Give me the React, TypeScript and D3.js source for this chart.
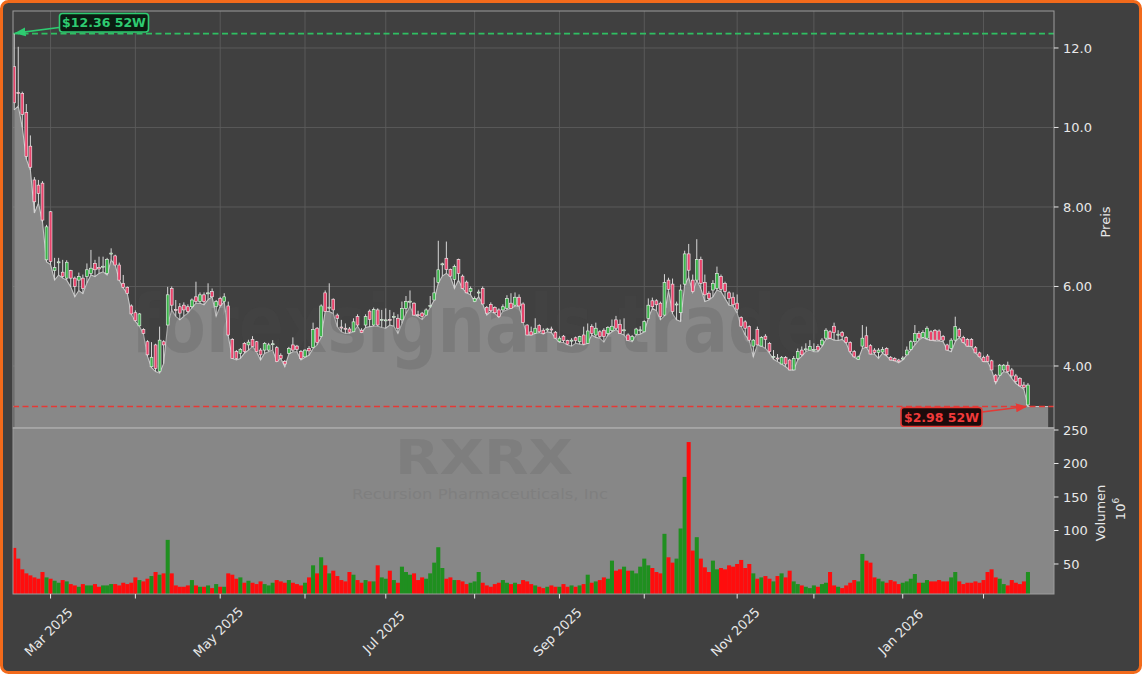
import React from "react";
import * as d3 from "d3";

// ---------- DATA ----------
const START_DATE = "2025-02-18";
const HOLIDAYS = [
  "2025-04-18", "2025-05-26", "2025-06-19", "2025-07-04", "2025-09-01",
  "2025-11-27", "2025-12-25", "2026-01-01", "2026-01-19", "2026-02-16",
];

const OPEN = [
  11.53, 10.88, 10.86, 10.38, 9.53, 8.68, 8.55, 8.6, 6.67, 7.88,
  6.4, 6.6, 6.36, 6.21, 6.4, 6.21, 6.16, 6.21, 6.25, 6.33,
  6.58, 6.48, 6.49, 6.33, 6.82, 6.77, 6.54, 6.08, 5.98, 5.51,
  5.34, 5.01, 4.92, 4.61, 3.98, 4.53, 3.86, 4.61, 5.03, 5.95,
  5.42, 5.49, 5.53, 5.49, 5.49, 5.74, 5.62, 5.79, 5.82, 5.87,
  5.49, 5.7, 5.62, 5.51, 4.67, 4.36, 4.32, 4.57, 4.53, 4.67,
  4.61, 4.4, 4.4, 4.4, 4.54, 4.46, 4.27, 4.11, 4.32, 4.53,
  4.5, 4.36, 4.23, 4.44, 4.47, 4.95, 4.74, 5.84, 5.46, 5.68,
  5.28, 4.98, 4.95, 4.93, 4.86, 5.24, 4.9, 5.03, 5.38, 5.03,
  5.41, 5.15, 5.14, 5.17, 5.23, 5.2, 5.16, 5.45, 5.61, 5.58,
  5.29, 5.33, 5.28, 5.5, 5.66, 6.1, 6.55, 6.71, 6.43, 6.18,
  6.68, 6.26, 6.11, 5.87, 5.62, 5.84, 5.95, 5.47, 5.55, 5.47,
  5.41, 5.41, 5.45, 5.58, 5.53, 5.73, 5.56, 5.03, 4.86, 4.82,
  5.02, 4.9, 4.91, 4.93, 4.85, 4.61, 4.75, 4.64, 4.63, 4.71,
  4.61, 4.78, 4.57, 4.99, 4.78, 4.86, 4.9, 4.82, 4.89, 5.16,
  5.05, 4.89, 4.78, 4.64, 4.8, 4.89, 4.86, 5.2, 5.64, 5.64,
  5.58, 5.28, 6.16, 6.06, 5.54, 5.34, 6.06, 6.82, 6.16, 6.16,
  6.68, 6.1, 5.83, 5.91, 5.95, 6.25, 6.08, 5.84, 5.73, 5.58,
  5.22, 5.11, 4.99, 4.5, 4.92, 4.5, 4.75, 4.57, 4.22, 4.2,
  4.05, 4.21, 4.15, 3.9, 4.19, 4.4, 4.41, 4.4, 4.39, 4.49,
  4.53, 4.7, 4.86, 5.0, 4.78, 4.84, 4.72, 4.59, 4.36, 4.17,
  4.5, 4.76, 4.51, 4.4, 4.34, 4.35, 4.44, 4.22, 4.19, 4.15,
  4.18, 4.28, 4.42, 4.61, 4.82, 4.72, 4.7, 4.86, 4.89, 4.88,
  4.74, 4.53, 4.44, 4.65, 4.92, 4.72, 4.67, 4.67, 4.46, 4.33,
  4.22, 4.25, 4.13, 3.77, 3.77, 3.9, 4.02, 3.9, 3.75, 3.69,
  3.52, 3.02,
];
const HIGH = [
  12.36, 12.03, 10.9, 10.59, 9.8, 8.75, 8.68, 8.65, 7.55, 7.9,
  6.72, 6.72, 6.67, 6.66, 6.42, 6.25, 6.35, 6.3, 6.58, 6.92,
  6.67, 6.75, 6.75, 6.72, 6.96, 6.8, 6.6, 6.29, 6.0, 5.55,
  5.4, 5.33, 4.95, 4.65, 4.6, 4.56, 4.99, 4.65, 5.99, 6.0,
  5.66, 5.58, 5.6, 5.55, 5.7, 6.12, 5.85, 5.85, 6.08, 5.95,
  5.66, 5.74, 5.83, 5.62, 4.7, 4.4, 4.45, 4.6, 4.66, 4.75,
  4.63, 4.45, 4.6, 4.58, 4.65, 4.5, 4.32, 4.15, 4.48, 4.72,
  4.53, 4.4, 4.42, 4.5, 5.09, 4.98, 5.55, 5.9, 6.08, 5.7,
  5.32, 5.16, 5.07, 4.98, 5.2, 5.3, 4.95, 5.3, 5.42, 5.47,
  5.45, 5.41, 5.45, 5.41, 5.35, 5.3, 5.62, 5.76, 5.9, 5.6,
  5.39, 5.36, 5.45, 5.76, 6.23, 7.15, 6.6, 7.13, 6.45, 6.55,
  6.7, 6.3, 6.15, 6.0, 5.75, 5.92, 6.0, 5.51, 5.6, 5.5,
  5.45, 5.55, 5.78, 5.83, 5.85, 5.8, 5.6, 5.05, 4.99, 5.2,
  5.05, 4.95, 4.96, 4.99, 4.88, 4.75, 4.78, 4.66, 4.7, 4.74,
  4.76, 4.99, 5.07, 5.05, 5.09, 4.9, 4.95, 5.0, 5.17, 5.26,
  5.17, 5.2, 4.82, 4.78, 4.96, 5.0, 5.15, 5.7, 5.72, 5.68,
  5.62, 6.31, 6.22, 6.2, 5.62, 6.05, 6.9, 7.07, 6.3, 7.19,
  6.75, 6.3, 5.88, 6.16, 6.5, 6.3, 6.12, 5.88, 5.85, 5.8,
  5.25, 5.15, 5.02, 4.68, 4.99, 4.75, 4.8, 4.6, 4.4, 4.3,
  4.25, 4.25, 4.18, 4.25, 4.44, 4.49, 4.57, 4.65, 4.57, 4.55,
  4.7, 4.95, 4.9, 5.09, 4.9, 4.88, 4.75, 4.62, 4.4, 4.26,
  5.03, 4.99, 4.55, 4.45, 4.45, 4.48, 4.47, 4.25, 4.22, 4.18,
  4.25, 4.49, 4.65, 5.03, 4.88, 4.9, 5.0, 4.9, 4.93, 4.92,
  4.78, 4.56, 4.7, 5.24, 4.96, 4.76, 4.7, 4.7, 4.5, 4.36,
  4.26, 4.3, 4.16, 3.8, 4.05, 4.05, 4.11, 3.95, 3.8, 3.72,
  3.6, 3.57,
];
const LOW = [
  10.44, 10.54, 10.0, 9.2, 8.93, 7.85, 8.1, 7.62, 6.62, 6.55,
  6.16, 6.29, 6.21, 6.16, 5.99, 5.74, 5.9, 5.82, 6.09, 6.29,
  6.25, 6.33, 6.37, 6.29, 6.67, 6.54, 6.16, 5.96, 5.82, 5.3,
  5.12, 5.0, 4.8, 4.24, 3.96, 3.86, 3.82, 4.06, 5.03, 5.41,
  5.25, 5.16, 5.25, 5.33, 5.46, 5.58, 5.58, 5.54, 5.67, 5.74,
  5.25, 5.5, 5.62, 4.75, 4.19, 4.15, 4.19, 4.32, 4.4, 4.49,
  4.36, 4.15, 4.32, 4.36, 4.4, 4.11, 4.19, 3.98, 4.3, 4.36,
  4.36, 4.15, 4.22, 4.27, 4.44, 4.53, 4.72, 5.37, 5.37, 5.32,
  4.99, 4.86, 4.82, 4.82, 4.86, 5.0, 4.84, 4.97, 4.99, 5.0,
  5.0, 4.97, 4.95, 5.03, 5.0, 4.82, 5.07, 5.32, 5.49, 5.28,
  5.24, 5.17, 5.28, 5.47, 5.66, 6.08, 6.26, 6.33, 6.25, 5.95,
  6.16, 5.95, 5.84, 5.79, 5.62, 5.74, 5.56, 5.28, 5.37, 5.32,
  5.22, 5.37, 5.41, 5.45, 5.51, 5.51, 5.09, 4.78, 4.78, 4.82,
  4.84, 4.8, 4.86, 4.84, 4.7, 4.59, 4.59, 4.53, 4.5, 4.57,
  4.55, 4.53, 4.57, 4.78, 4.72, 4.7, 4.6, 4.78, 4.86, 4.92,
  4.82, 4.78, 4.64, 4.61, 4.78, 4.8, 4.86, 5.2, 5.45, 5.39,
  5.16, 5.26, 5.9, 5.31, 5.16, 5.12, 6.04, 6.23, 5.85, 6.16,
  5.95, 5.62, 5.66, 5.74, 5.91, 5.87, 5.7, 5.53, 5.51, 5.33,
  4.99, 4.78, 4.64, 4.23, 4.53, 4.5, 4.44, 4.32, 4.17, 4.11,
  4.05, 3.98, 3.9, 3.9, 4.15, 4.25, 4.36, 4.4, 4.36, 4.36,
  4.49, 4.67, 4.7, 4.65, 4.64, 4.67, 4.57, 4.33, 4.22, 4.17,
  4.44, 4.47, 4.3, 4.3, 4.19, 4.32, 4.25, 4.15, 4.13, 4.08,
  4.15, 4.28, 4.4, 4.53, 4.65, 4.72, 4.67, 4.65, 4.63, 4.63,
  4.61, 4.4, 4.36, 4.61, 4.72, 4.59, 4.5, 4.49, 4.33, 4.23,
  4.11, 4.11, 3.9, 3.56, 3.75, 3.86, 3.83, 3.69, 3.56, 3.49,
  3.41, 2.98,
];
const CLOSE = [
  10.62, 10.85, 10.33, 9.27, 9.0, 8.13, 8.34, 7.67, 7.5, 6.63,
  6.48, 6.62, 6.25, 6.61, 6.21, 6.0, 6.25, 5.95, 6.42, 6.46,
  6.42, 6.44, 6.51, 6.68, 6.84, 6.54, 6.16, 5.98, 5.83, 5.31,
  5.14, 5.31, 4.82, 4.28, 4.22, 3.94, 4.65, 4.53, 5.79, 5.53,
  5.4, 5.33, 5.41, 5.37, 5.66, 5.62, 5.79, 5.62, 5.84, 5.74,
  5.62, 5.53, 5.74, 4.78, 4.19, 4.19, 4.42, 4.36, 4.6, 4.49,
  4.36, 4.28, 4.57, 4.53, 4.56, 4.11, 4.19, 4.05, 4.44, 4.4,
  4.42, 4.19, 4.4, 4.38, 4.92, 4.59, 5.51, 5.37, 5.48, 5.41,
  5.2, 4.96, 4.93, 4.85, 5.11, 5.03, 4.84, 5.24, 5.17, 5.42,
  5.03, 5.17, 5.16, 5.15, 5.25, 4.95, 5.45, 5.62, 5.63, 5.28,
  5.27, 5.24, 5.41, 5.52, 5.84, 6.42, 6.57, 6.43, 6.26, 6.5,
  6.33, 5.95, 5.84, 5.95, 5.7, 5.86, 5.56, 5.33, 5.39, 5.34,
  5.24, 5.49, 5.7, 5.45, 5.73, 5.51, 5.09, 4.78, 4.78, 4.95,
  4.86, 4.82, 4.93, 4.91, 4.7, 4.7, 4.64, 4.55, 4.65, 4.64,
  4.74, 4.55, 4.88, 4.82, 4.95, 4.74, 4.74, 4.97, 5.0, 4.95,
  4.82, 4.91, 4.64, 4.74, 4.93, 4.91, 5.12, 5.53, 5.49, 5.54,
  5.24, 6.1, 5.93, 5.37, 5.56, 5.91, 6.82, 6.41, 5.87, 6.68,
  6.08, 5.79, 5.7, 6.08, 6.33, 5.93, 5.87, 5.7, 5.54, 5.43,
  5.0, 4.95, 4.65, 4.65, 4.53, 4.72, 4.67, 4.36, 4.24, 4.18,
  4.22, 4.05, 3.9, 4.19, 4.36, 4.28, 4.43, 4.49, 4.41, 4.4,
  4.65, 4.9, 4.7, 4.84, 4.8, 4.75, 4.59, 4.36, 4.23, 4.23,
  4.7, 4.47, 4.3, 4.34, 4.4, 4.42, 4.28, 4.15, 4.13, 4.11,
  4.2, 4.4, 4.61, 4.82, 4.7, 4.84, 4.95, 4.65, 4.65, 4.65,
  4.65, 4.4, 4.65, 4.99, 4.74, 4.59, 4.5, 4.49, 4.33, 4.23,
  4.11, 4.11, 3.9, 3.61, 4.02, 4.02, 3.86, 3.75, 3.61, 3.5,
  3.46, 3.52,
];
// Volume in millions
const VOLUME = [
  74, 58, 42, 36, 33, 30, 28, 38, 30, 28,
  25, 22, 26, 24, 20, 18, 16, 20, 18, 18,
  20, 16, 18, 18, 20, 20, 18, 22, 20, 22,
  30, 26, 24, 28, 32, 38, 34, 36, 86, 36,
  18, 16, 16, 18, 26, 18, 16, 16, 18, 14,
  20, 16, 16, 36, 34, 28, 30, 22, 25, 22,
  20, 24, 20, 18, 22, 26, 24, 22, 26, 22,
  20, 18, 22, 30, 48, 36, 60, 48, 36, 40,
  32, 26, 24, 38, 34, 26, 22, 26, 24, 24,
  48, 30, 28, 40, 26, 22, 46, 38, 34, 36,
  26, 30, 28, 36, 52, 75, 44, 28, 30, 26,
  26, 24, 20, 22, 24, 38, 22, 18, 16, 20,
  22, 26, 22, 20, 22, 20, 26, 24, 20, 18,
  16, 14, 16, 18, 16, 16, 20, 16, 18, 16,
  18, 20, 34, 22, 24, 26, 30, 28, 55, 40,
  42, 46, 40, 40, 36, 46, 58, 48, 44, 38,
  36, 95, 60, 52, 58, 103, 180, 232, 70, 90,
  58, 45, 38, 55, 42, 44, 42, 48, 46, 50,
  56, 44, 50, 36, 28, 30, 32, 28, 24, 32,
  36, 30, 40, 24, 20, 18, 16, 14, 18, 16,
  20, 22, 38, 18, 16, 14, 18, 22, 26, 24,
  65, 55, 52, 30, 28, 24, 22, 26, 24, 20,
  22, 24, 28, 35, 22, 22, 26, 24, 24, 26,
  24, 24, 30, 38, 24, 20, 22, 22, 24, 22,
  26, 38, 42, 30, 28, 20, 18, 26, 22, 20,
  24, 38,
];

const PRICE_TICKS = [4, 6, 8, 10, 12];
const VOLUME_TICKS = [50, 100, 150, 200, 250];
const HIGH_52W = 12.36;
const LOW_52W = 2.98;
const TICKER = "RXRX";
const COMPANY = "Recursion Pharmaceuticals, Inc";
const WATERMARK = "forexsignals.trade";
const PRICE_LABEL = "Preis";
const VOLUME_LABEL = "Volumen";

// ---------- HELPERS ----------
function tradingDays(start: string, n: number): Date[] {
  const out: Date[] = [];
  const d = new Date(start + "T00:00:00Z");
  while (out.length < n) {
    const dow = d.getUTCDay();
    const iso = d.toISOString().slice(0, 10);
    if (dow !== 0 && dow !== 6 && !HOLIDAYS.includes(iso)) out.push(new Date(d));
    d.setUTCDate(d.getUTCDate() + 1);
  }
  return out;
}

const W = 1142;
const H = 674;
const PL = 13, PR = 1054;
const PT = 11, PB = 428; // price panel
const VT = 428, VB = 594; // volume panel

const FONT = "DejaVu Sans, Verdana, sans-serif";

export default function App() {
  const n = CLOSE.length;
  const dates = tradingDays(START_DATE, n);
  const data = d3.range(n).map((i) => ({
    i,
    date: dates[i],
    o: OPEN[i],
    h: HIGH[i],
    l: LOW[i],
    c: CLOSE[i],
    v: VOLUME[i],
  }));

  const x = d3.scaleLinear().domain([-0.3, 257.45]).range([PL, PR]);
  const yP = d3.scaleLinear().domain([2.44, 12.93]).range([PB, PT]);
  const yV = d3.scaleLinear().domain([5.2, 253]).range([VB, VT]);
  const step = x(1) - x(0);

  const monthTicks = data.filter(
    (d, k) => k > 0 && d.date.getUTCMonth() !== data[k - 1].date.getUTCMonth()
  );
  const fmtMonth = d3.utcFormat("%b %Y");
  const fmtPrice = d3.format(".3r");

  const areaPts = [...data.map((d) => ({ i: d.i, l: d.l })), { i: 256, l: data[n - 1].l }];
  const area = d3
    .area<{ i: number; l: number }>()
    .x((d) => x(d.i))
    .y0(PB)
    .y1((d) => yP(d.l));
  const line = d3
    .line<{ i: number; l: number }>()
    .x((d) => x(d.i))
    .y((d) => yP(d.l));

  const UP = "#3cb44b";
  const DOWN = "#e8436b";
  const VUP = "#1f8f1f";
  const VDOWN = "#ff0d0d";
  const GREEN = "#2ecc71";
  const RED = "#e53935";

  const bodyW = step * 0.7;

  return (
    <svg
      width={W}
      height={H}
      style={{ position: "absolute", left: 0, top: 0, display: "block" }}
      fontFamily={FONT}
    >
      <defs>
        <clipPath id="clipP">
          <rect x={PL} y={PT} width={PR - PL} height={PB - PT} />
        </clipPath>
        <clipPath id="clipV">
          <rect x={PL} y={VT} width={PR - PL} height={VB - VT} />
        </clipPath>
        <marker id="arrG" viewBox="0 0 10 10" refX="9" refY="5" markerWidth="7" markerHeight="7" orient="auto">
          <path d="M0,1 L10,5 L0,9 z" fill={GREEN} />
        </marker>
        <marker id="arrR" viewBox="0 0 10 10" refX="9" refY="5" markerWidth="7" markerHeight="7" orient="auto">
          <path d="M0,1 L10,5 L0,9 z" fill={RED} />
        </marker>
      </defs>

      {/* figure background & frame */}
      <rect x={1.5} y={1.5} width={W - 3} height={H - 3} rx={7} fill="#404040" stroke="#f26a1b" strokeWidth={3} />

      {/* ---------- PRICE PANEL ---------- */}
      <g clipPath="url(#clipP)">
        {PRICE_TICKS.map((t) => (
          <line key={"hg" + t} x1={PL} x2={PR} y1={yP(t)} y2={yP(t)} stroke="#5c5c5c" strokeWidth={0.9} />
        ))}
        {monthTicks.map((d) => (
          <line key={"vg" + d.i} x1={x(d.i)} x2={x(d.i)} y1={PT} y2={PB} stroke="#5c5c5c" strokeWidth={0.9} />
        ))}
        <path d={area(areaPts) || ""} fill="#888888" />
        <path d={line(areaPts) || ""} fill="none" stroke="#c4c4c4" strokeWidth={1.1} />
        <text
          x={476}
          y={352}
          fontSize={80}
          fontWeight="bold"
          fill="#4a4a4a"
          fillOpacity={0.2}
          textLength={690}
          lengthAdjust="spacingAndGlyphs"
          textAnchor="middle"
        >
          {WATERMARK}
        </text>
        <line x1={PL} x2={PR} y1={yP(HIGH_52W)} y2={yP(HIGH_52W)} stroke="#2fbf62" strokeWidth={1.6} strokeDasharray="6 3.5" />
        <line x1={PL} x2={PR} y1={yP(LOW_52W)} y2={yP(LOW_52W)} stroke={RED} strokeWidth={1.5} strokeDasharray="6 3.5" />
        {data.map((d) => {
          const up = d.c >= d.o;
          const top = yP(Math.max(d.o, d.c));
          const bot = yP(Math.min(d.o, d.c));
          const cx = x(d.i);
          return (
            <g key={"c" + d.i}>
              <line x1={cx} x2={cx} y1={yP(d.h)} y2={yP(d.l)} stroke="#d6d6d6" strokeWidth={1} />
              <rect
                x={cx - bodyW / 2}
                y={top}
                width={bodyW}
                height={Math.max(1, bot - top)}
                fill={up ? UP : DOWN}
                stroke="#f2f2f2"
                strokeWidth={0.6}
              />
            </g>
          );
        })}
      </g>
      {/* 52W annotations */}
      <line x1={59} y1={27.5} x2={15.5} y2={yP(HIGH_52W) - 0.5} stroke={GREEN} strokeWidth={1.6} markerEnd="url(#arrG)" />
      <rect x={59.5} y={13.5} width={89} height={18.5} rx={3} fill="#0b1c11" stroke={GREEN} strokeWidth={1.6} />
      <text x={104} y={27} fontSize={12.5} fontWeight="bold" fill={GREEN} textAnchor="middle">
        {"$" + HIGH_52W.toFixed(2) + " 52W"}
      </text>
      <line x1={982} y1={412} x2={1026} y2={yP(LOW_52W)} stroke={RED} strokeWidth={1.6} markerEnd="url(#arrR)" />
      <rect x={901} y={407.5} width={81} height={19} rx={3} fill="#1c0b0b" stroke={RED} strokeWidth={1.6} />
      <text x={941.5} y={421.5} fontSize={12.5} fontWeight="bold" fill="#f03a3a" textAnchor="middle">
        {"$" + LOW_52W.toFixed(2) + " 52W"}
      </text>
      <rect x={PL} y={PT} width={PR - PL} height={PB - PT} fill="none" stroke="#9c9c9c" strokeWidth={1} />

      {/* ---------- VOLUME PANEL ---------- */}
      <rect x={PL} y={VT} width={PR - PL} height={VB - VT} fill="#878787" />
      <g clipPath="url(#clipV)">
        <text x={484} y={474} fontSize={48} fontWeight="bold" fill="#7e7e7e" textAnchor="middle" textLength={178} lengthAdjust="spacingAndGlyphs">
          {TICKER}
        </text>
        <text x={480} y={499} fontSize={14.5} fill="#7f7f7f" textAnchor="middle" textLength={256} lengthAdjust="spacingAndGlyphs">
          {COMPANY}
        </text>
        {data.map((d) => (
          <rect
            key={"v" + d.i}
            x={x(d.i) - step / 2}
            y={yV(d.v)}
            width={step}
            height={VB - yV(d.v)}
            fill={d.c >= d.o ? VUP : VDOWN}
          />
        ))}
      </g>
      <rect x={PL} y={VT} width={PR - PL} height={VB - VT} fill="none" stroke="#9c9c9c" strokeWidth={1} />
      <line x1={PL} x2={PR} y1={PB} y2={PB} stroke="#b4b4b4" strokeWidth={1.2} />

      {/* ---------- AXES ---------- */}
      {PRICE_TICKS.map((t) => (
        <g key={"pt" + t}>
          <line x1={PR} x2={PR + 4.5} y1={yP(t)} y2={yP(t)} stroke="#e6e6e6" strokeWidth={1} />
          <text x={PR + 9} y={yP(t)} dy="0.35em" fontSize={13} fill="#e8e8e8">
            {fmtPrice(t)}
          </text>
        </g>
      ))}
      {VOLUME_TICKS.map((t) => (
        <g key={"vt" + t}>
          <line x1={PR} x2={PR + 4.5} y1={yV(t)} y2={yV(t)} stroke="#e6e6e6" strokeWidth={1} />
          <text x={PR + 9} y={yV(t)} dy="0.35em" fontSize={13} fill="#e8e8e8">
            {t}
          </text>
        </g>
      ))}
      <text transform={`translate(1110,222) rotate(-90)`} fontSize={13} fill="#e8e8e8" textAnchor="middle">
        {PRICE_LABEL}
      </text>
      <text transform={`translate(1104.5,513) rotate(-90)`} fontSize={13} fill="#e8e8e8" textAnchor="middle">
        {VOLUME_LABEL}
      </text>
      <text transform={`translate(1125,509) rotate(-90)`} fontSize={13} fill="#e8e8e8" textAnchor="middle">
        10
        <tspan dy={-6} fontSize={9}>6</tspan>
      </text>

      {monthTicks.map((d) => (
        <g key={"xt" + d.i}>
          <line x1={x(d.i)} x2={x(d.i)} y1={VB} y2={VB + 4.5} stroke="#e6e6e6" strokeWidth={1} />
          {d.date.getUTCMonth() % 2 === 0 && (
            <text
              transform={`translate(${x(d.i) - 2},${632}) rotate(-45)`}
              fontSize={13}
              fill="#e8e8e8"
              textAnchor="middle"
              dy="0.35em"
            >
              {fmtMonth(d.date)}
            </text>
          )}
        </g>
      ))}
    </svg>
  );
}
